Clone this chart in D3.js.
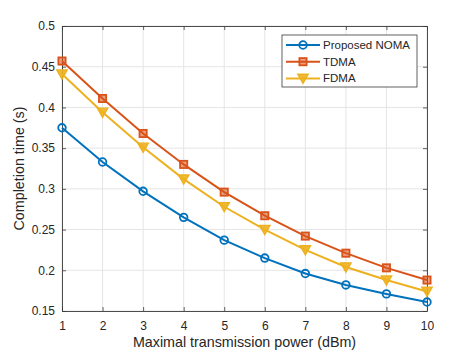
<!DOCTYPE html>
<html>
<head>
<meta charset="utf-8">
<script src="https://cdn.jsdelivr.net/npm/d3@7"></script>
<style>
  body { margin: 0; background: #fff; }
  text { font-family: "Liberation Sans", Arial, sans-serif; fill: #262626; }
</style>
</head>
<body>
<div id="chart"></div>
<script>
var powers = [1, 2, 3, 4, 5, 6, 7, 8, 9, 10];
var noma = [0.375, 0.333, 0.297, 0.265, 0.237, 0.215, 0.196, 0.182, 0.171, 0.161];
var tdma = [0.457, 0.411, 0.368, 0.330, 0.296, 0.267, 0.242, 0.221, 0.203, 0.188];
var fdma = [0.441, 0.394, 0.351, 0.312, 0.278, 0.250, 0.225, 0.204, 0.188, 0.174];
var seriesNames = ["Proposed NOMA", "TDMA", "FDMA"];
var yTicks = [0.15, 0.2, 0.25, 0.3, 0.35, 0.4, 0.45, 0.5];

var width = 471, height = 353;
var margin = { top: 26, right: 44, bottom: 42, left: 62 };
var w = width - margin.left - margin.right,
    h = height - margin.top - margin.bottom;

var colors = ["#0072BD", "#D95319", "#EDB120"];
var markers = ["circle", "square", "tri"];
var series = [noma, tdma, fdma];

var svg = d3.select("#chart").append("svg")
    .attr("width", width)
    .attr("height", height);

var g = svg.append("g")
    .attr("transform", "translate(" + margin.left + "," + margin.top + ")");

var x = d3.scaleLinear().domain([1, 10]).range([0, w]);
var y = d3.scaleLinear().domain([0.15, 0.5]).range([h, 0]);

// grid
g.selectAll(".gx").data(powers).enter().append("line")
    .attr("x1", function(d) { return x(d); }).attr("x2", function(d) { return x(d); })
    .attr("y1", 0).attr("y2", h)
    .style("stroke", "#e5e5e5").style("stroke-width", 1);
g.selectAll(".gy").data(yTicks).enter().append("line")
    .attr("y1", function(d) { return y(d); }).attr("y2", function(d) { return y(d); })
    .attr("x1", 0).attr("x2", w)
    .style("stroke", "#e5e5e5").style("stroke-width", 1);

// axes (inward ticks on all sides, MATLAB style)
var fmt = function(d) { return d3.format("")(+d.toFixed(2)); };
var xAxis = g.append("g").attr("transform", "translate(0," + h + ")")
    .call(d3.axisBottom(x).tickValues(powers).tickSizeInner(-4).tickSizeOuter(0).tickPadding(10));
var xTop = g.append("g")
    .call(d3.axisTop(x).tickValues(powers).tickSizeInner(-4).tickSizeOuter(0).tickFormat(""));
var yAxis = g.append("g")
    .call(d3.axisLeft(y).tickValues(yTicks).tickFormat(fmt).tickSizeInner(-4).tickSizeOuter(0).tickPadding(7));
var yRight = g.append("g").attr("transform", "translate(" + w + ",0)")
    .call(d3.axisRight(y).tickValues(yTicks).tickSizeInner(-4).tickSizeOuter(0).tickFormat(""));

[xAxis, xTop, yAxis, yRight].forEach(function(a) {
  a.select(".domain").style("stroke", "#3a3a3a").style("stroke-width", 0.9);
  a.selectAll(".tick line").style("stroke", "#3a3a3a").style("stroke-width", 0.8);
  a.selectAll(".tick text").style("font-size", "12px").style("fill", "#262626")
    .style("font-family", "'Liberation Sans', Arial, sans-serif");
});

// lines and markers
var line = d3.line()
    .x(function(d, i) { return x(powers[i]); })
    .y(function(d) { return y(d); });

function drawMarker(sel, type, color, cx, cy) {
  if (type === "circle") {
    sel.append("circle").attr("cx", cx).attr("cy", cy).attr("r", 3.8)
      .style("fill", "none").style("stroke", color).style("stroke-width", 1.8);
  } else if (type === "square") {
    sel.append("rect").attr("x", cx - 3.6).attr("y", cy - 3.6)
      .attr("width", 7.2).attr("height", 7.2)
      .style("fill", color).style("fill-opacity", 0.55)
      .style("stroke", color).style("stroke-width", 1.8);
  } else {
    var s = 5.2;
    sel.append("path")
      .attr("d", "M" + (cx - s) + "," + (cy - s * 0.8) + "L" + (cx + s) + "," + (cy - s * 0.8) +
                 "L" + cx + "," + (cy + s * 0.95) + "Z")
      .style("fill", color).style("fill-opacity", 0.9).style("stroke", color).style("stroke-width", 1.4);
  }
}

series.forEach(function(s, k) {
  g.append("path").datum(s)
    .attr("d", line)
    .style("fill", "none").style("stroke", colors[k]).style("stroke-width", 2);
  var mg = g.append("g");
  s.forEach(function(v, i) { drawMarker(mg, markers[k], colors[k], x(powers[i]), y(v)); });
});

// axis labels
svg.append("text")
    .attr("x", margin.left + w / 2).attr("y", 347)
    .attr("text-anchor", "middle").style("font-size", "14.3px")
    .text("Maximal transmission power (dBm)");
svg.append("text")
    .attr("transform", "translate(24," + (margin.top + h / 2) + ") rotate(-90)")
    .attr("text-anchor", "middle").style("font-size", "14.3px")
    .text("Completion time (s)");

// legend
var lg = svg.append("g").attr("transform", "translate(282,35)");
lg.append("rect").attr("width", 135).attr("height", 52)
  .style("fill", "#fff").style("stroke", "#3a3a3a").style("stroke-width", 0.8);
seriesNames.forEach(function(name, k) {
  var yy = 10 + k * 16.7;
  lg.append("line").attr("x1", 4).attr("x2", 38).attr("y1", yy).attr("y2", yy)
    .style("stroke", colors[k]).style("stroke-width", 2);
  drawMarker(lg, markers[k], colors[k], 21, yy);
  lg.append("text").attr("x", 41).attr("y", yy + 4).style("font-size", "11.5px").text(name);
});
</script>
</body>
</html>
